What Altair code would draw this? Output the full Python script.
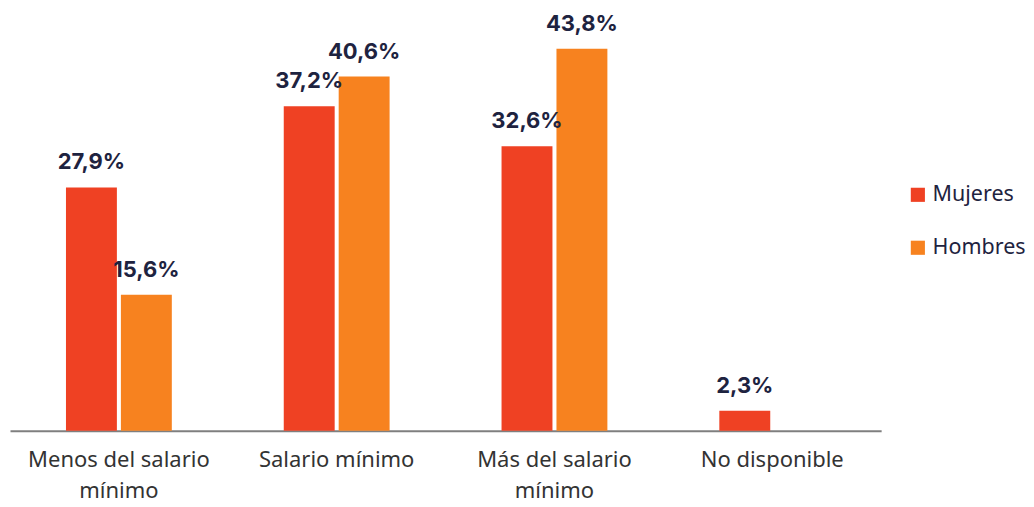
import altair as alt
import pandas as pd

categories = ["Menos del salario mínimo", "Salario mínimo", "Más del salario mínimo", "No disponible"]
mujeres = [27.9, 37.2, 32.6, 2.3]
hombres = [15.6, 40.6, 43.8, None]
series = ["Mujeres", "Hombres"]
colors = ["#EF4123", "#F7821F"]

rows = []
for c, m, h in zip(categories, mujeres, hombres):
    for s, v in zip(series, [m, h]):
        if v is not None:
            rows.append({"cat": c, "serie": s, "valor": v,
                         "label": f"{v:.1f}".replace(".", ",") + "%"})
df = pd.DataFrame(rows)

label_expr = ("datum.value == 'Menos del salario mínimo' ? ['Menos del salario', 'mínimo'] : "
              "datum.value == 'Más del salario mínimo' ? ['Más del salario', 'mínimo'] : datum.value")

x = alt.X("cat:N", sort=categories, title=None,
          scale=alt.Scale(paddingInner=0.514, paddingOuter=0.257),
          axis=alt.Axis(labelExpr=label_expr, labelAngle=0, labelFontSize=22,
                        labelFont="Noto Sans", labelColor="#333333", labelPadding=19,
                        labelLineHeight=31, labelLimit=400, ticks=False,
                        domainColor="#7F7F7F", domainWidth=2, labelBaseline="top"))
y = alt.Y("valor:Q", title=None, scale=alt.Scale(domain=[0, 48.2]), axis=None)
xo = alt.XOffset("serie:N", sort=series, scale=alt.Scale(paddingInner=0.073, paddingOuter=0))

bars = alt.Chart(df).mark_bar().encode(
    x=x, y=y, xOffset=xo,
    color=alt.Color("serie:N", sort=series,
                    scale=alt.Scale(domain=series, range=colors),
                    legend=alt.Legend(title=None, orient="none", legendX=898, legendY=174,
                                      symbolType="square", symbolSize=200,
                                      symbolStrokeWidth=0, labelFontSize=21.5,
                                      labelFont="Noto Sans", labelColor="#1E2340",
                                      rowPadding=30, labelOffset=4)),
)

text = alt.Chart(df).mark_text(baseline="bottom", dy=-13, fontSize=22,
                               fontWeight="bold", font="Inter", color="#1E2340").encode(
    x=x, y=y, xOffset=xo, text="label:N"
)

chart = (bars + text).properties(
    width=872, height=421,
    padding={"left": 2, "top": 2, "right": 0, "bottom": 0},
).configure_view(stroke=None)

chart.save("out.html", embed_options={"renderer": "svg", "actions": False})
